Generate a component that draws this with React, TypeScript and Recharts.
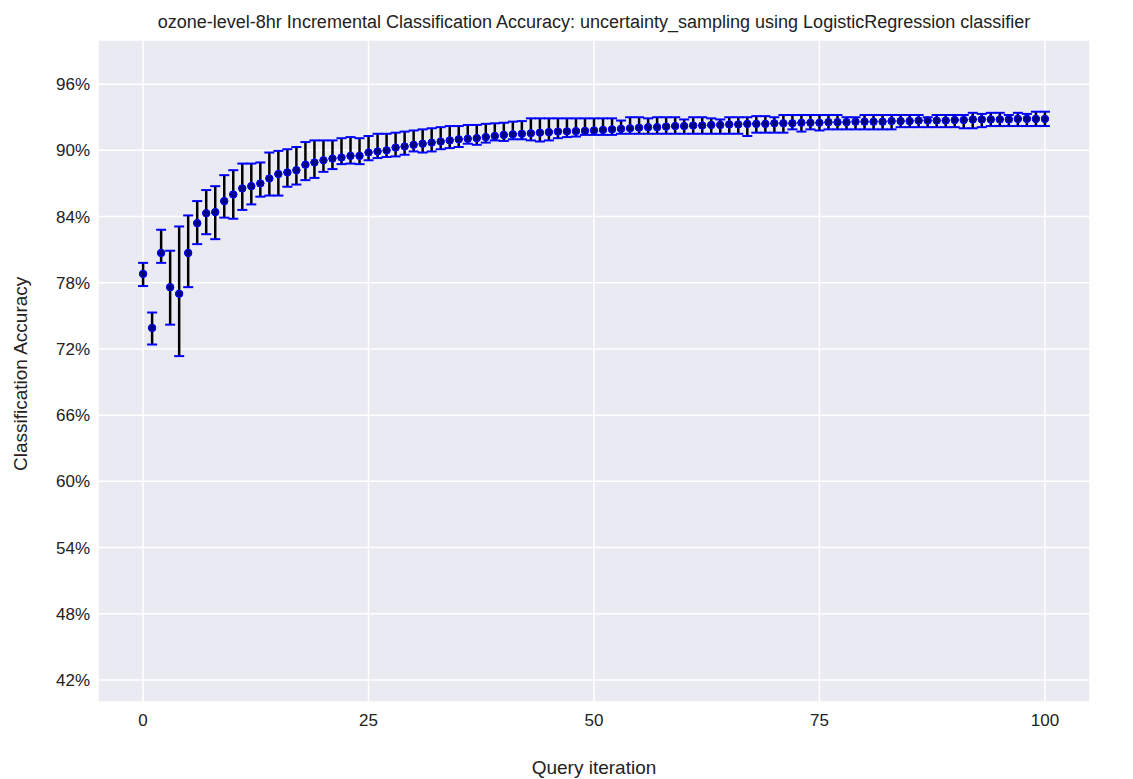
import { ComposedChart, Scatter, XAxis, YAxis, CartesianGrid, ErrorBar } from 'recharts';

const means = [
  78.8, 73.9, 80.7, 77.6, 77.0, 80.7, 83.4, 84.3, 84.4, 85.4,
  86.0, 86.55, 86.75, 87.0, 87.45, 87.85, 88.0, 88.2, 88.7, 88.9,
  89.1, 89.25, 89.35, 89.5, 89.5, 89.8, 89.9, 90.0, 90.25, 90.35,
  90.5, 90.6, 90.7, 90.8, 90.9, 91.0, 91.05, 91.1, 91.2, 91.3,
  91.4, 91.45, 91.5, 91.55, 91.6, 91.65, 91.7, 91.72, 91.74, 91.76,
  91.8, 91.85, 91.9, 91.95, 92.0, 92.05, 92.1, 92.1, 92.15, 92.2,
  92.2, 92.25, 92.25, 92.3, 92.3, 92.35, 92.35, 92.4, 92.4, 92.4,
  92.45, 92.45, 92.45, 92.5, 92.5, 92.5, 92.55, 92.55, 92.55, 92.6,
  92.6, 92.6, 92.6, 92.65, 92.65, 92.65, 92.7, 92.7, 92.7, 92.7,
  92.75, 92.75, 92.8, 92.8, 92.8, 92.8, 92.8, 92.85, 92.85, 92.85,
  92.85,
];
const highs = [
  79.8, 75.3, 82.8, 80.9, 83.1, 84.1, 85.4, 86.4, 86.75, 87.75,
  88.2, 88.8, 88.8, 88.9, 89.8, 89.95, 90.1, 90.3, 90.75, 90.9,
  90.9, 90.9, 91.1, 91.2, 91.1, 91.3, 91.5, 91.5, 91.6, 91.7,
  91.8, 91.9, 92.0, 92.1, 92.2, 92.2, 92.3, 92.3, 92.4, 92.45,
  92.5, 92.6, 92.65, 92.9, 92.9, 92.9, 92.9, 92.9, 92.9, 92.9,
  92.9, 92.9, 92.9, 92.7, 93.0, 93.0, 92.9, 93.0, 93.0, 93.0,
  92.8, 93.0, 93.0, 92.9, 92.8, 93.0, 93.0, 93.0, 93.1, 93.1,
  93.0, 93.2, 93.2, 93.2, 93.2, 93.2, 93.2, 93.2, 93.0, 93.0,
  93.2, 93.2, 93.2, 93.2, 93.2, 93.2, 93.2, 93.0, 93.2, 93.2,
  93.2, 93.2, 93.4, 93.3, 93.4, 93.4, 93.2, 93.4, 93.3, 93.5,
  93.5,
];
const lows = [
  77.7, 72.4, 79.8, 74.2, 71.35, 77.6, 81.5, 82.4, 81.95, 83.9,
  83.8, 84.6, 85.1, 85.8, 85.9, 85.9, 86.7, 86.9, 87.3, 87.5,
  88.05, 88.3, 88.75, 88.8, 88.75, 89.1, 89.3, 89.4, 89.45, 89.6,
  89.9, 89.8, 89.9, 90.1, 90.2, 90.3, 90.6, 90.5, 90.7, 90.9,
  90.85, 91.0, 91.0, 90.9, 90.8, 90.9, 91.1, 91.2, 91.25, 91.4,
  91.4, 91.4, 91.4, 91.5, 91.5, 91.5, 91.5, 91.5, 91.5, 91.5,
  91.5, 91.5, 91.5, 91.5, 91.5, 91.5, 91.5, 91.3, 91.6, 91.6,
  91.6, 91.6, 91.9, 91.7, 91.9, 91.8, 91.9, 91.9, 91.9, 91.9,
  91.9, 91.9, 91.9, 91.9, 92.1, 92.1, 92.1, 92.1, 92.1, 92.1,
  92.1, 92.0, 92.0, 92.1, 92.2, 92.2, 92.2, 92.2, 92.2, 92.2,
  92.2,
];
const xTicks = [0, 25, 50, 75, 100];
const yTicks = [42, 48, 54, 60, 66, 72, 78, 84, 90, 96];

const data = means.map((m, i) => ({
  x: i,
  mean: m,
  high: highs[i],
  low: lows[i],
  err: [m - lows[i], highs[i] - m],
}));

const font = 'Liberation Sans, Arial, sans-serif';

const Cap = (props: any) => (
  <line x1={props.cx - 5} x2={props.cx + 5} y1={props.cy} y2={props.cy} stroke="#0000ff" strokeWidth={2} />
);
const Dot = (props: any) => (
  <circle cx={props.cx} cy={props.cy} r={3.6} fill="#000080" stroke="#0000ff" strokeWidth={1} />
);

export default function App() {
  return (
    <div style={{ position: 'absolute', left: 0, top: 0, width: 1133, height: 779, background: '#fff', fontFamily: font }}>
      <div style={{ position: 'absolute', top: 12, left: 0, width: 1188, textAlign: 'center', fontSize: 18, color: '#222' }}>
        ozone-level-8hr Incremental Classification Accuracy: uncertainty_sampling using LogisticRegression classifier
      </div>
      <ComposedChart width={1133} height={779} data={data} margin={{ top: 40, right: 43, left: 0, bottom: 47 }}>
        <CartesianGrid fill="#eaeaf2" stroke="#ffffff" strokeWidth={1.5} />
        <XAxis
          type="number"
          dataKey="x"
          domain={[-5, 105]}
          ticks={xTicks}
          axisLine={false}
          tickLine={false}
          tick={{ fontSize: 17, fill: '#222', fontFamily: font }}
          tickMargin={6}
          label={{ value: 'Query iteration', position: 'insideBottom', offset: -42, fontSize: 19, fill: '#222', fontFamily: font }}
        />
        <YAxis
          type="number"
          domain={[40, 100]}
          ticks={yTicks}
          width={98}
          axisLine={false}
          tickLine={false}
          tickFormatter={(v) => `${v}%`}
          tick={{ fontSize: 17, fill: '#222', fontFamily: font }}
          label={{ value: 'Classification Accuracy', angle: -90, position: 'insideLeft', offset: 20, dy: 100, fontSize: 19, fill: '#222', fontFamily: font }}
        />
        <Scatter dataKey="mean" isAnimationActive={false} shape={Dot}>
          <ErrorBar dataKey="err" direction="y" width={0} stroke="#000" strokeWidth={2.5} />
        </Scatter>
        <Scatter dataKey="high" isAnimationActive={false} shape={Cap} />
        <Scatter dataKey="low" isAnimationActive={false} shape={Cap} />
        <Scatter dataKey="mean" isAnimationActive={false} shape={Dot} />
      </ComposedChart>
    </div>
  );
}
